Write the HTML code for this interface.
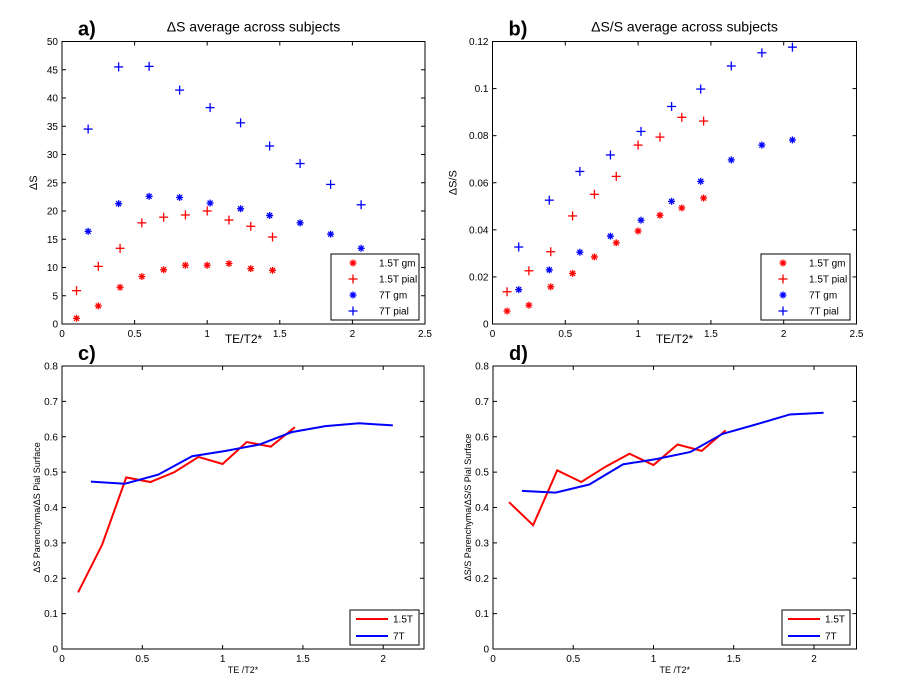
<!DOCTYPE html>
<html><head><meta charset="utf-8"><style>
body{margin:0;background:#fff;}
svg{display:block;font-family:"Liberation Sans",Arial,sans-serif;}
</style></head><body>
<svg id="fig" width="902" height="690" viewBox="0 0 902 690"></svg>
<script>
const x15 = [0.1,0.25,0.4,0.55,0.7,0.85,1.0,1.15,1.3,1.45];
const x7 = [0.18,0.39,0.6,0.81,1.02,1.23,1.43,1.64,1.85,2.06];
const aGm15 = [1,3.2,6.5,8.4,9.6,10.4,10.4,10.7,9.8,9.5];
const aPial15 = [5.9,10.2,13.4,17.9,18.9,19.3,20.0,18.4,17.3,15.4];
const aGm7 = [16.4,21.3,22.6,22.4,21.4,20.4,19.2,17.9,15.9,13.4];
const aPial7 = [34.5,45.5,45.6,41.4,38.3,35.6,31.5,28.4,24.7,21.1];
const bGm15 = [0.0055,0.008,0.0158,0.0215,0.0285,0.0345,0.0395,0.0462,0.0493,0.0535];
const bPial15 = [0.0137,0.0226,0.0307,0.0459,0.0551,0.0627,0.0760,0.0794,0.0878,0.0862];
const bGm7 = [0.0146,0.0230,0.0305,0.0373,0.0441,0.0521,0.0606,0.0697,0.0760,0.0782];
const bPial7 = [0.0327,0.0526,0.0648,0.0718,0.0818,0.0924,0.0998,0.1096,0.1152,0.1176];
const cRatio15 = [0.16,0.295,0.485,0.472,0.50,0.543,0.523,0.585,0.572,0.627];
const cRatio7 = [0.473,0.467,0.493,0.545,0.56,0.578,0.613,0.63,0.638,0.632];
const dRatio15 = [0.415,0.35,0.505,0.472,0.515,0.552,0.52,0.578,0.56,0.618];
const dRatio7 = [0.447,0.442,0.465,0.522,0.537,0.557,0.608,0.635,0.663,0.668];
const ticksAB_x = ['0','0.5','1','1.5','2','2.5'];
const ticksA_y = ['0','5','10','15','20','25','30','35','40','45','50'];
const ticksB_y = ['0','0.02','0.04','0.06','0.08','0.1','0.12'];
const ticksCD_x = ['0','0.5','1','1.5','2'];
const ticksCD_y = ['0','0.1','0.2','0.3','0.4','0.5','0.6','0.7','0.8'];

const NS='http://www.w3.org/2000/svg';
const svg=document.getElementById('fig');
function mk(tag,attrs,parent){const e=document.createElementNS(NS,tag);for(const k in attrs)e.setAttribute(k,attrs[k]);(parent||svg).appendChild(e);return e;}
function txt(s,attrs,parent){const e=mk('text',attrs,parent);e.textContent=s;return e;}

function panel(cfg){
  const g=mk('g',{});
  
  
  const {L,R,T,B,xmax,ymax}=cfg;
  const sx=v=>L+(R-L)*v/xmax, sy=v=>B-(B-T)*v/ymax;
  const box=mk('rect',{x:L,y:T,width:R-L,height:B-T,fill:'none',stroke:'#000','stroke-width':1},g);
  
  
  cfg.xt.forEach(t=>{const v=parseFloat(t),x=sx(v);
    mk('line',{x1:x,x2:x,y1:B,y2:B-4,stroke:'#000'},g);mk('line',{x1:x,x2:x,y1:T,y2:T+4,stroke:'#000'},g);
    const e=txt(t,{x:x,y:B+13,'font-size':10,'text-anchor':'middle'},g);
    });
  cfg.yt.forEach(t=>{const v=parseFloat(t),y=sy(v);
    mk('line',{x1:L,x2:L+4,y1:y,y2:y,stroke:'#000'},g);mk('line',{x1:R,x2:R-4,y1:y,y2:y,stroke:'#000'},g);
    const e=txt(t,{x:L-4,y:y+3.5,'font-size':10,'text-anchor':'end'},g);
    });
  cfg.series.forEach(s=>{
    const sg=mk('g',{},g);
    
    
    if(s.type==='line'){
      const pts=s.x.map((v,i)=>sx(v)+','+sy(s.y[i])).join(' ');
      mk('polyline',{points:pts,fill:'none',stroke:s.color,'stroke-width':2},sg);
    } else {
      s.x.forEach((v,i)=>{marker(sg,sx(v),sy(s.y[i]),s.type,s.color);});
    }
  });
  const lg=cfg.legend;
  const lgG=mk('g',{},g);
  
  
  mk('rect',{x:lg.x,y:lg.y,width:lg.w,height:lg.h,fill:'#fff',stroke:'#000'},lgG);
  cfg.series.forEach((s,i)=>{
    const yy=lg.y+lg.pad+i*lg.step;
    if(s.type==='line') mk('line',{x1:lg.x+6,x2:lg.x+38,y1:yy,y2:yy,stroke:s.color,'stroke-width':2},lgG);
    else marker(lgG,lg.x+22,yy,s.type,s.color);
    const e=txt(s.label,{x:lg.x+lg.tx,y:yy+3.5,'font-size':10},lgG);
    
  });
  if(cfg.title){const e=txt(cfg.title,{x:(L+R)/2+10,y:T-10,'font-size':14,'text-anchor':'middle'},g);
    }
  const pl=txt(cfg.letter,{x:L+16,y:T-6,'font-size':20,'font-weight':'bold'},g);
  
  const xl=txt(cfg.xlabel,{x:(L+R)/2,y:B+cfg.xlOff,'font-size':cfg.xlSize,'text-anchor':'middle'},g);
  
  const yl=txt(cfg.ylabel,{x:0,y:0,'font-size':cfg.ylSize,'text-anchor':'middle',transform:`translate(${L-cfg.ylOff},${(T+B)/2}) rotate(-90)`},g);
  
}
function marker(g,x,y,type,color){
  const r=type==='star'?3.5:4.5;
  mk('line',{x1:x-r,x2:x+r,y1:y,y2:y,stroke:color,'stroke-width':1.3},g);
  mk('line',{x1:x,x2:x,y1:y-r,y2:y+r,stroke:color,'stroke-width':1.3},g);
  if(type==='star'){const q=2.5;
    mk('line',{x1:x-q,x2:x+q,y1:y-q,y2:y+q,stroke:color,'stroke-width':1.3},g);
    mk('line',{x1:x-q,x2:x+q,y1:y+q,y2:y-q,stroke:color,'stroke-width':1.3},g);}
}
const RED='#ff0000',BLUE='#0000ff';
panel({name:'panel-a',L:62,R:425,T:41.5,B:324,xmax:2.5,ymax:50,xt:ticksAB_x,yt:ticksA_y,
  title:'ΔS average across subjects',letter:'a)',xlabel:'TE/T2*',xlOff:19,xlSize:12,ylabel:'ΔS',ylSize:11,ylOff:25,
  legend:{x:331,y:254,w:88,h:66,pad:9,step:16,tx:48},
  series:[{name:'series-1-5t-gm',label:'1.5T gm',type:'star',color:RED,x:x15,y:aGm15},
    {name:'series-1-5t-pial',label:'1.5T pial',type:'plus',color:RED,x:x15,y:aPial15},
    {name:'series-7t-gm',label:'7T gm',type:'star',color:BLUE,x:x7,y:aGm7},
    {name:'series-7t-pial',label:'7T pial',type:'plus',color:BLUE,x:x7,y:aPial7}]});
panel({name:'panel-b',L:492.5,R:856.5,T:41.5,B:324,xmax:2.5,ymax:0.12,xt:ticksAB_x,yt:ticksB_y,
  title:'ΔS/S average across subjects',letter:'b)',xlabel:'TE/T2*',xlOff:19,xlSize:12,ylabel:'ΔS/S',ylSize:11,ylOff:36,
  legend:{x:761,y:254,w:89,h:66,pad:9,step:16,tx:48},
  series:[{name:'series-1-5t-gm',label:'1.5T gm',type:'star',color:RED,x:x15,y:bGm15},
    {name:'series-1-5t-pial',label:'1.5T pial',type:'plus',color:RED,x:x15,y:bPial15},
    {name:'series-7t-gm',label:'7T gm',type:'star',color:BLUE,x:x7,y:bGm7},
    {name:'series-7t-pial',label:'7T pial',type:'plus',color:BLUE,x:x7,y:bPial7}]});
panel({name:'panel-c',L:62,R:424,T:366,B:649,xmax:2.254,ymax:0.8,xt:ticksCD_x,yt:ticksCD_y,
  letter:'c)',xlabel:'TE /T2*',xlOff:24,xlSize:9,ylabel:'ΔS Parenchyma/ΔS Pial Surface',ylSize:9,ylOff:22,
  legend:{x:350,y:610,w:69,h:35,pad:9,step:17,tx:43},
  series:[{name:'line-1-5t',label:'1.5T',type:'line',color:RED,x:x15,y:cRatio15},
    {name:'line-7t',label:'7T',type:'line',color:BLUE,x:x7,y:cRatio7}]});
panel({name:'panel-d',L:493,R:856.5,T:366,B:649,xmax:2.265,ymax:0.8,xt:ticksCD_x,yt:ticksCD_y,
  letter:'d)',xlabel:'TE /T2*',xlOff:24,xlSize:9,ylabel:'ΔS/S Parenchyma/ΔS/S Pial Surface',ylSize:9,ylOff:22,
  legend:{x:782,y:610,w:68,h:35,pad:9,step:17,tx:43},
  series:[{name:'line-1-5t',label:'1.5T',type:'line',color:RED,x:x15,y:dRatio15},
    {name:'line-7t',label:'7T',type:'line',color:BLUE,x:x7,y:dRatio7}]});
</script>
</body></html>
